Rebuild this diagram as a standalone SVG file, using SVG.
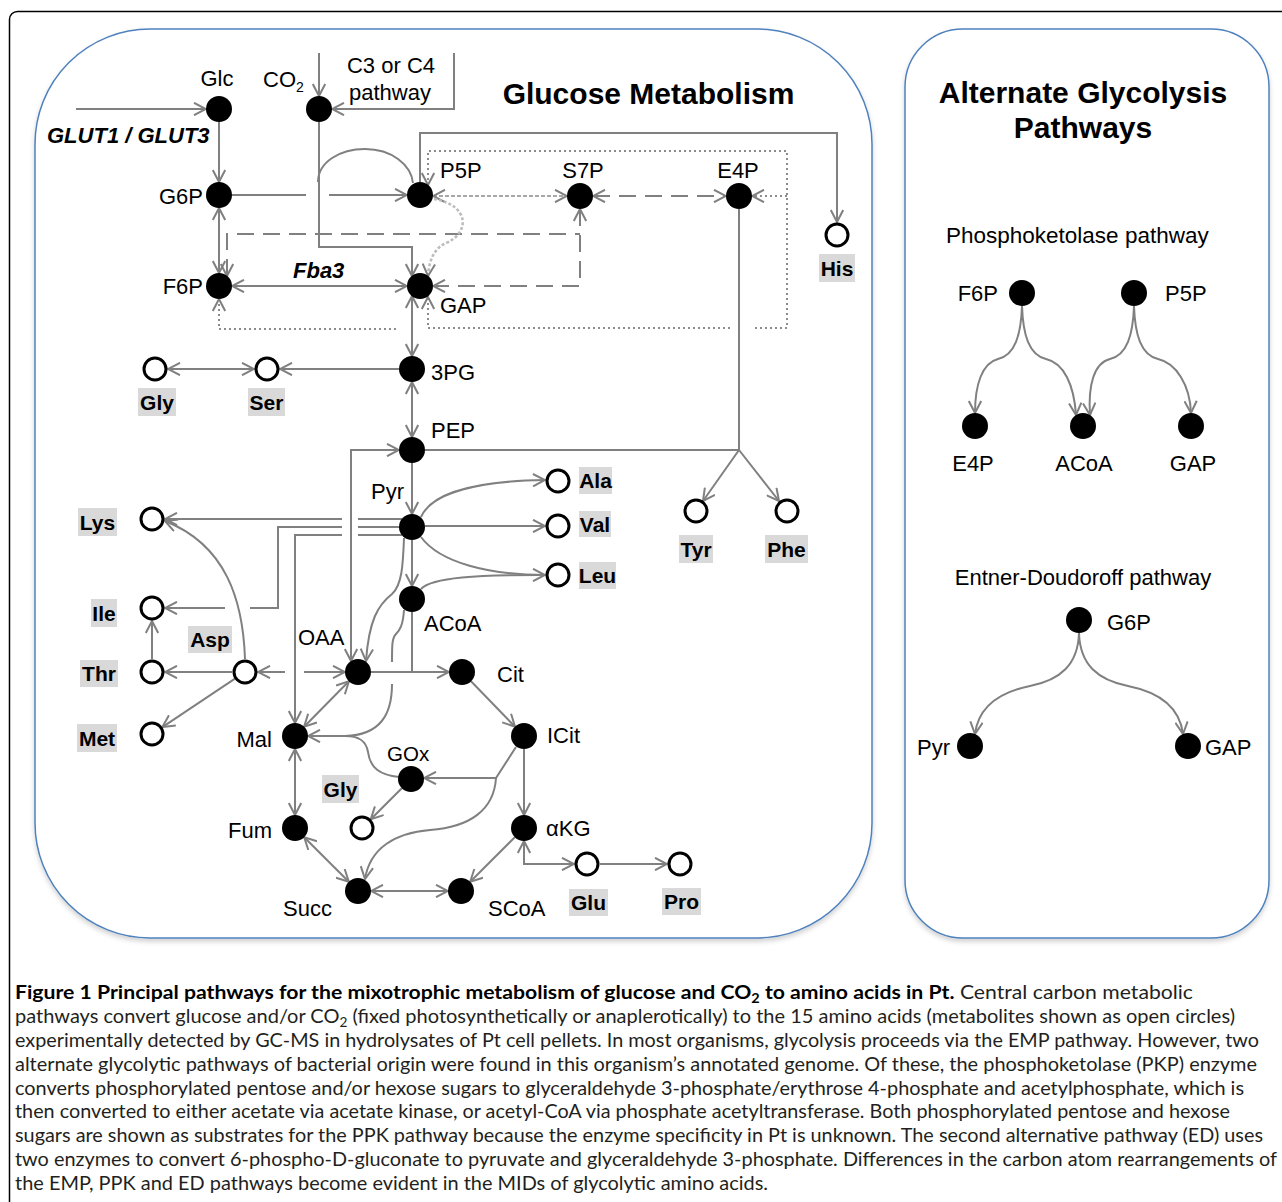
<svg xmlns="http://www.w3.org/2000/svg" width="1282" height="1202" viewBox="0 0 1282 1202">
<defs>
<style>
.ln{fill:none;stroke:#808080;stroke-width:2}
.ln path{fill:none}
.da{stroke-dasharray:17 9}
.dt{stroke:#8c8c8c;stroke-dasharray:2 3}
.lt{stroke:#a8a8a8;stroke-dasharray:4 2}
.lt2{stroke:#bdbdbd;stroke-width:2.6;stroke-dasharray:3 2}
.e{marker-end:url(#ah)}
.s{marker-start:url(#ah)}
.nd{fill:#000}
.aa{fill:#fff;stroke:#000;stroke-width:3}
.lb{font-family:"Liberation Sans",Arial,sans-serif;font-size:22px;fill:#000}
.ab{font-family:"Liberation Sans",Arial,sans-serif;font-size:21px;font-weight:bold;fill:#000;text-anchor:middle}
.bg{fill:#d9d9d9}
.ttl{font-family:"Liberation Sans",Arial,sans-serif;font-size:30px;font-weight:bold;fill:#000;text-anchor:middle}
.it{font-family:"Liberation Sans",Arial,sans-serif;font-size:22px;font-weight:bold;font-style:italic;fill:#000}
.cap{font-family:Lato,"Open Sans",sans-serif;font-size:19px;fill:#231f20}
.panel{fill:#fff;stroke:#4f81bd;stroke-width:1.5}
</style>
<marker id="ah" viewBox="0 0 14 14" refX="13" refY="7" markerWidth="14" markerHeight="14" markerUnits="userSpaceOnUse" orient="auto-start-reverse"><path d="M1,0.8 L13,7 L1,13.2" fill="none" stroke="#808080" stroke-width="2"/></marker>
<filter id="sh" x="-5%" y="-5%" width="110%" height="110%"><feDropShadow dx="0" dy="3" stdDeviation="2.5" flood-color="#000" flood-opacity="0.18"/></filter>
</defs>
<rect width="1282" height="1202" fill="#fff"/>
<rect x="9.5" y="11.5" width="1300" height="1300" rx="8" fill="none" stroke="#000" stroke-width="1.5"/>
<rect id="panel-glucose" class="panel" x="35" y="29" width="837" height="909" rx="115" filter="url(#sh)"/>
<rect id="panel-alt" class="panel" x="905" y="29" width="364" height="909" rx="58" filter="url(#sh)"/>

<text class="ttl" x="648.5" y="104">Glucose Metabolism</text>
<text class="ttl" x="1083" y="103">Alternate Glycolysis</text>
<text class="ttl" x="1083" y="138">Pathways</text>
<text class="lb" x="946" y="243" style="font-size:22.5px">Phosphoketolase pathway</text>
<text class="lb" x="1083" y="585" text-anchor="middle">Entner-Doudoroff pathway</text>
<text class="it" x="47" y="143">GLUT1 / GLUT3</text>
<text class="it" x="293" y="278">Fba3</text>
<text class="lb" x="391" y="73" text-anchor="middle">C3 or C4</text>
<text class="lb" x="390" y="100" text-anchor="middle">pathway</text>

<g id="connectors" class="ln">
<path class="e" d="M76,109 H206"/>
<path class="e" d="M319,53 V96"/>
<path class="e" d="M454,53 V109 H332"/>
<path class="e" d="M219,122 V182"/>
<path d="M232,195 H306"/>
<path class="e" d="M329,195 H407"/>
<path class="e" d="M319,122 V247 H412 V276"/>
<path d="M318,182 C318,162 340,149 365,149 C392,149 411,165 413,183"/>
<path class="s e" d="M219,208 V273"/>
<path class="s e" d="M232,286 H407"/>
<path class="e" d="M420,182 V133 H837 V222"/>
<path class="dt s" d="M428,185 V151 H787 V328 H752"/>
<path class="dt e" d="M730,328 H428 V297"/>
<path class="dt e" d="M787,196 H752"/>
<path class="dt s" d="M219,299 V329 H397"/>
<path class="da s" d="M227,276 V234 H580"/>
<path class="da s e" d="M580,209 V286 H433"/>
<path class="da s e" d="M593,196 H726"/>
<path class="lt s e" d="M433,196 H567"/>
<path class="lt2 e" d="M434,199 C470,205 470,233 446,243 C433,249 429,262 428,276"/>
<path class="s e" d="M412,296 V356"/>
<path class="e" d="M399,369 H280"/>
<path class="s e" d="M254,369 H168"/>
<path class="s e" d="M412,382 V437"/>
<path d="M425,450 H739"/>
<path d="M739,209 V450"/>
<path class="e" d="M739,450 L703,501"/>
<path class="e" d="M739,450 L779,501"/>
<path class="s e" d="M399,450 H351 V661"/>
<path class="e" d="M412,463 V514"/>
<path class="e" d="M412,540 V586"/>
<path class="e" d="M425,526 H545"/>
<path class="e" d="M421,517 C432,492 480,481 545,480"/>
<path class="e" d="M421,537 C440,563 490,575 545,575"/>
<path d="M421,589 C432,577 480,575 540,575"/>
<path d="M412,612 V672"/>
<path class="e" d="M371,672 H449"/>
<path class="e" d="M404,538 C403,565 402,585 392,594 C378,605 369,620 366,661"/>
<path d="M402,519 H358"/>
<path class="e" d="M342,519 H165"/>
<path d="M399,527 H358"/>
<path d="M342,527 H278 V608 H250"/>
<path class="e" d="M225,608 H165"/>
<path d="M402,535 H358"/>
<path class="e" d="M342,535 H295 V723"/>
<path class="e" d="M245,659 C243,600 226,545 165,521"/>
<path class="s" d="M258,672 H285"/>
<path class="e" d="M304,672 H345"/>
<path class="e" d="M232,672 H165"/>
<path class="e" d="M152,659 V621"/>
<path class="e" d="M234.6,678.9 L162.4,727.1"/>
<path class="s e" d="M348.9,681.3 L304.1,726.7"/>
<path d="M404,610 C403,625 400,630 396,634 C392,638 392,645 392,662"/>
<path class="e" d="M392,684 C392,715 380,735 345,736 H308"/>
<path d="M399,777 C380,775 370,768 368,752 C366,740 358,736 345,736"/>
<path class="e" d="M516,747 L496,778 H424"/>
<path class="e" d="M496,778 C494,810 470,827 430,830 C395,833 370,848 365,879"/>
<path class="e" d="M401.8,788.2 L370.8,819.2"/>
<path class="s e" d="M295,749 V815"/>
<path class="s e" d="M304.2,837.2 L348.8,881.8"/>
<path class="s e" d="M371,891 H448"/>
<path class="e" d="M514.8,837.2 L470.2,881.8"/>
<path class="e" d="M471,681.3 L515,726.7"/>
<path class="e" d="M524,749 V815"/>
<path class="s e" d="M524,841 V864 H574"/>
<path class="e" d="M600,864 H667"/>
<path class="e" d="M1022,306 C1021,335 1015,355 998,359 C982,363 975,385 975,413"/>
<path class="e" d="M1022,306 C1023,335 1029,355 1046,359 C1064,363 1074,385 1076,415"/>
<path class="e" d="M1134,306 C1133,335 1127,355 1110,359 C1094,363 1088,385 1090,415"/>
<path class="e" d="M1134,306 C1135,335 1141,355 1158,359 C1176,363 1190,385 1191,413"/>
<path class="e" d="M1079,633 C1078,665 1060,680 1030,686 C995,693 978,710 975,734"/>
<path class="e" d="M1079,633 C1080,665 1098,680 1128,686 C1163,693 1180,710 1183,734"/>
</g>

<g id="n-glc"><circle class="nd" cx="219" cy="109" r="13"/><text class="lb" x="217" y="86" text-anchor="middle">Glc</text></g>
<g id="n-co2"><circle class="nd" cx="319" cy="109" r="13"/><text class="lb" x="263" y="87">CO<tspan font-size="14" dy="5">2</tspan></text></g>
<g id="n-g6p"><circle class="nd" cx="219" cy="195" r="13"/><text class="lb" x="203" y="204" text-anchor="end">G6P</text></g>
<g id="n-f6p"><circle class="nd" cx="219" cy="286" r="13"/><text class="lb" x="203" y="294" text-anchor="end">F6P</text></g>
<g id="n-p5p"><circle class="nd" cx="420" cy="195" r="13"/><text class="lb" x="440" y="178">P5P</text></g>
<g id="n-gap"><circle class="nd" cx="420" cy="286" r="13"/><text class="lb" x="440" y="313">GAP</text></g>
<g id="n-s7p"><circle class="nd" cx="580" cy="196" r="13"/><text class="lb" x="583" y="178" text-anchor="middle">S7P</text></g>
<g id="n-e4p"><circle class="nd" cx="739" cy="196" r="13"/><text class="lb" x="738" y="178" text-anchor="middle">E4P</text></g>
<g id="n-his"><circle class="aa" cx="837" cy="235" r="11"/><rect class="bg" x="819" y="254" width="36" height="28"/><text class="ab" x="837" y="276">His</text></g>
<g id="n-3pg"><circle class="nd" cx="412" cy="369" r="13"/><text class="lb" x="431" y="380">3PG</text></g>
<g id="n-ser"><circle class="aa" cx="267" cy="369" r="11"/><rect class="bg" x="248" y="388" width="37" height="28"/><text class="ab" x="266.5" y="410">Ser</text></g>
<g id="n-gly1"><circle class="aa" cx="155" cy="369" r="11"/><rect class="bg" x="138" y="388" width="38" height="28"/><text class="ab" x="157" y="410">Gly</text></g>
<g id="n-pep"><circle class="nd" cx="412" cy="450" r="13"/><text class="lb" x="431" y="438">PEP</text></g>
<g id="n-pyr"><circle class="nd" cx="412" cy="527" r="13"/><text class="lb" x="371" y="499">Pyr</text></g>
<g id="n-acoa"><circle class="nd" cx="412" cy="599" r="13"/><text class="lb" x="424" y="631">ACoA</text></g>
<g id="n-ala"><circle class="aa" cx="558" cy="481" r="11"/><rect class="bg" x="579" y="467" width="33" height="27"/><text class="ab" x="595.5" y="488">Ala</text></g>
<g id="n-val"><circle class="aa" cx="558" cy="526" r="11"/><rect class="bg" x="579" y="511" width="32" height="26"/><text class="ab" x="595" y="532">Val</text></g>
<g id="n-leu"><circle class="aa" cx="558" cy="575" r="11"/><rect class="bg" x="579" y="562" width="37" height="27"/><text class="ab" x="597.5" y="583">Leu</text></g>
<g id="n-tyr"><circle class="aa" cx="696" cy="511" r="11"/><rect class="bg" x="679" y="535" width="34" height="28"/><text class="ab" x="696" y="557">Tyr</text></g>
<g id="n-phe"><circle class="aa" cx="787" cy="511" r="11"/><rect class="bg" x="765" y="535" width="43" height="28"/><text class="ab" x="786.5" y="557">Phe</text></g>
<g id="n-lys"><circle class="aa" cx="152" cy="519" r="11"/><rect class="bg" x="78" y="508" width="39" height="28"/><text class="ab" x="97.5" y="530">Lys</text></g>
<g id="n-ile"><circle class="aa" cx="152" cy="608" r="11"/><rect class="bg" x="91" y="599" width="26" height="28"/><text class="ab" x="104" y="621">Ile</text></g>
<g id="n-asp"><circle class="aa" cx="245" cy="672" r="11"/><rect class="bg" x="188" y="626" width="44" height="27"/><text class="ab" x="210" y="647">Asp</text></g>
<g id="n-thr"><circle class="aa" cx="152" cy="672" r="11"/><rect class="bg" x="80" y="660" width="38" height="27"/><text class="ab" x="99" y="681">Thr</text></g>
<g id="n-met"><circle class="aa" cx="152" cy="734" r="11"/><rect class="bg" x="77" y="724" width="40" height="28"/><text class="ab" x="97" y="746">Met</text></g>
<g id="n-oaa"><circle class="nd" cx="358" cy="672" r="13"/><text class="lb" x="298" y="645">OAA</text></g>
<g id="n-cit"><circle class="nd" cx="462" cy="672" r="13"/><text class="lb" x="497" y="682">Cit</text></g>
<g id="n-icit"><circle class="nd" cx="524" cy="736" r="13"/><text class="lb" x="547" y="743">ICit</text></g>
<g id="n-mal"><circle class="nd" cx="295" cy="736" r="13"/><text class="lb" x="272" y="747" text-anchor="end">Mal</text></g>
<g id="n-gox"><circle class="nd" cx="411" cy="779" r="13"/><text class="lb" x="387" y="761" style="font-size:20.5px">GOx</text></g>
<g id="n-gly2"><circle class="aa" cx="362" cy="828" r="11"/><rect class="bg" x="322" y="775" width="37" height="28"/><text class="ab" x="340.5" y="797">Gly</text></g>
<g id="n-akg"><circle class="nd" cx="524" cy="828" r="13"/><text class="lb" x="546" y="836">αKG</text></g>
<g id="n-fum"><circle class="nd" cx="295" cy="828" r="13"/><text class="lb" x="272" y="838" text-anchor="end">Fum</text></g>
<g id="n-succ"><circle class="nd" cx="358" cy="891" r="13"/><text class="lb" x="283" y="916">Succ</text></g>
<g id="n-scoa"><circle class="nd" cx="461" cy="891" r="13"/><text class="lb" x="488" y="916">SCoA</text></g>
<g id="n-glu"><circle class="aa" cx="587" cy="864" r="11"/><rect class="bg" x="569" y="889" width="39" height="27"/><text class="ab" x="588.5" y="910">Glu</text></g>
<g id="n-pro"><circle class="aa" cx="680" cy="864" r="11"/><rect class="bg" x="662" y="888" width="39" height="27"/><text class="ab" x="681.5" y="909">Pro</text></g>

<g id="pk-f6p"><circle class="nd" cx="1022" cy="293" r="13"/><text class="lb" x="998" y="301" text-anchor="end">F6P</text></g>
<g id="pk-p5p"><circle class="nd" cx="1134" cy="293" r="13"/><text class="lb" x="1165" y="301">P5P</text></g>
<g id="pk-e4p"><circle class="nd" cx="975" cy="426" r="13"/><text class="lb" x="973" y="471" text-anchor="middle">E4P</text></g>
<g id="pk-acoa"><circle class="nd" cx="1083" cy="426" r="13"/><text class="lb" x="1084" y="471" text-anchor="middle">ACoA</text></g>
<g id="pk-gap"><circle class="nd" cx="1191" cy="426" r="13"/><text class="lb" x="1193" y="471" text-anchor="middle">GAP</text></g>
<g id="ed-g6p"><circle class="nd" cx="1079" cy="620" r="13"/><text class="lb" x="1107" y="630">G6P</text></g>
<g id="ed-pyr"><circle class="nd" cx="970" cy="746" r="13"/><text class="lb" x="950" y="755" text-anchor="end">Pyr</text></g>
<g id="ed-gap"><circle class="nd" cx="1188" cy="746" r="13"/><text class="lb" x="1205" y="755">GAP</text></g>

<g id="caption">
<text class="cap" x="15" y="999" textLength="1178" lengthAdjust="spacingAndGlyphs"><tspan font-weight="bold" fill="#000">Figure 1 Principal pathways for the mixotrophic metabolism of glucose and CO<tspan font-size="13" dy="4">2</tspan><tspan dy="-4"> to amino acids in Pt.</tspan></tspan> Central carbon metabolic</text>
<text class="cap" x="15" y="1022.9" textLength="1220" lengthAdjust="spacingAndGlyphs">pathways convert glucose and/or CO<tspan font-size="13" dy="4">2</tspan><tspan dy="-4"> (fixed photosynthetically or anaplerotically) to the 15 amino acids (metabolites shown as open circles)</tspan></text>
<text class="cap" x="15" y="1046.8" textLength="1244" lengthAdjust="spacingAndGlyphs">experimentally detected by GC-MS in hydrolysates of Pt cell pellets. In most organisms, glycolysis proceeds via the EMP pathway. However, two</text>
<text class="cap" x="15" y="1070.6" textLength="1242" lengthAdjust="spacingAndGlyphs">alternate glycolytic pathways of bacterial origin were found in this organism’s annotated genome. Of these, the phosphoketolase (PKP) enzyme</text>
<text class="cap" x="15" y="1094.5" textLength="1229" lengthAdjust="spacingAndGlyphs">converts phosphorylated pentose and/or hexose sugars to glyceraldehyde 3-phosphate/erythrose 4-phosphate and acetylphosphate, which is</text>
<text class="cap" x="15" y="1118.4" textLength="1215" lengthAdjust="spacingAndGlyphs">then converted to either acetate via acetate kinase, or acetyl-CoA via phosphate acetyltransferase. Both phosphorylated pentose and hexose</text>
<text class="cap" x="15" y="1142.3" textLength="1248" lengthAdjust="spacingAndGlyphs">sugars are shown as substrates for the PPK pathway because the enzyme specificity in Pt is unknown. The second alternative pathway (ED) uses</text>
<text class="cap" x="15" y="1166.1" textLength="1262" lengthAdjust="spacingAndGlyphs">two enzymes to convert 6-phospho-D-gluconate to pyruvate and glyceraldehyde 3-phosphate. Differences in the carbon atom rearrangements of</text>
<text class="cap" x="15" y="1190" textLength="753" lengthAdjust="spacingAndGlyphs">the EMP, PPK and ED pathways become evident in the MIDs of glycolytic amino acids.</text>
</g>
</svg>
